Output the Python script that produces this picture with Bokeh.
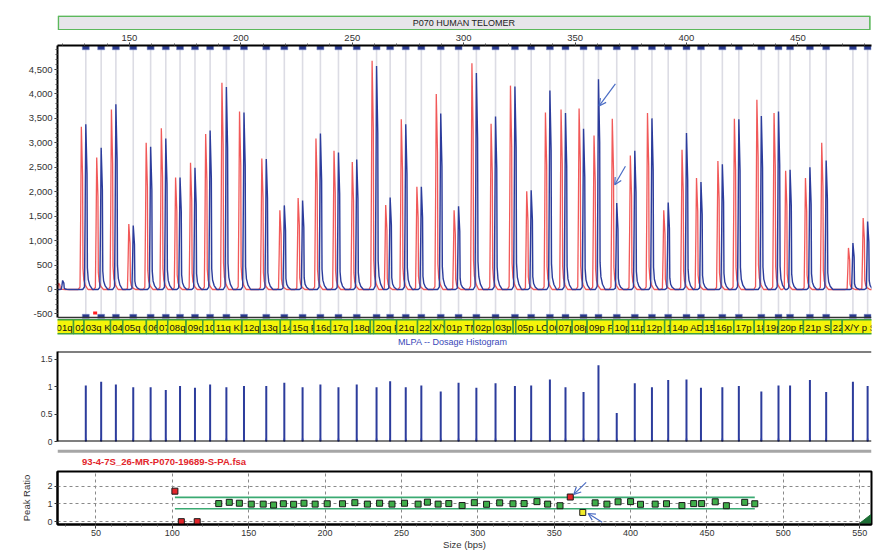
from bokeh.plotting import figure
from bokeh.layouts import column
from bokeh.models import (Range1d, SingleIntervalTicker, FixedTicker, NumeralTickFormatter,
                          Span, Label, Arrow, OpenHead, ColumnDataSource)
from bokeh.core.properties import value
from bokeh.embed import file_html
from bokeh.resources import INLINE

FONT = "Liberation Sans"
W = 894

# ---------------- data ----------------
PANEL_TITLE = "P070 HUMAN TELOMER"
HIST_TITLE = "MLPA -- Dosage Histogram"
FILE_NAME = "93-4-7S_26-MR-P070-19689-S-PA.fsa"

PROBE_BP = [130.4, 137.3, 143.9, 151.7, 159.5, 166.3, 172.7, 179.4, 186.2, 193.5,
            201.4, 211.4, 219.5, 227.7, 235.7, 243.8, 252.0, 260.9, 267.0, 274.0,
            281.0, 289.7, 297.7, 305.7, 314.3, 323.0, 330.3, 338.7, 345.7, 353.8,
            360.5, 368.7, 376.8, 384.5, 391.8, 400.0, 406.5, 416.1, 423.5, 433.6,
            441.3, 446.5, 455.4, 462.7, 474.7, 481.3]
REF_PEAK_BP = [128.4, 135.3, 141.9, 149.7, 157.5, 164.3, 170.7, 177.4, 184.2, 191.5,
               199.4, 209.4, 217.5, 225.7, 233.7, 241.8, 250.0, 258.9, 265.0, 272.0,
               279.0, 287.7, 295.7, 303.7, 312.3, 321.0, 328.3, 336.7, 343.7, 351.8,
               358.5, 366.7, 374.8, 382.5, 389.8, 398.0, 404.5, 414.1, 421.5, 431.6,
               439.3, 444.5, 453.4, 460.7, 472.7, 479.3]
REF_HEIGHT = [3330, 2700, 3680, 1340, 3000, 3300, 2290, 2590, 3180, 4230,
              3640, 2680, 1620, 1870, 3090, 2840, 2610, 4680, 1730, 3480,
              2100, 4000, 1620, 4630, 3390, 4170, 2010, 3620, 3680, 3700,
              3150, 3490, 2740, 3610, 1620, 2860, 2280, 2630, 3490, 3880,
              3610, 2430, 2280, 3000, 850, 1460]
SAMPLE_HEIGHT = [3380, 2900, 3790, 1310, 2920, 3090, 2290, 2490, 3250, 4140,
                 3620, 2670, 1720, 1820, 3190, 2800, 2660, 4570, 1880, 3380,
                 2100, 3600, 1700, 4430, 3540, 4150, 2030, 4070, 3610, 3290,
                 4300, 1770, 2840, 3500, 1780, 3200, 2200, 2560, 3480, 3550,
                 3640, 2450, 2500, 2640, 950, 1390]
EXTRA_REF_BP, EXTRA_REF_H = [118.2], [130]
EXTRA_SAMPLE_BP, EXTRA_SAMPLE_H = [120.0], [185]
FLAG_BP = [134.6]
FLAG_Y = [-480]

DOSAGE = [1.02, 1.09, 1.04, 0.99, 0.99, 0.94, 1.01, 0.98, 1.04, 0.99,
          1.01, 1.01, 1.07, 0.99, 1.04, 0.99, 1.04, 0.99, 1.10, 0.99,
          1.02, 0.91, 1.07, 0.98, 1.06, 1.01, 1.02, 1.13, 0.99, 0.90,
          1.39, 0.52, 1.06, 0.99, 1.12, 1.13, 0.98, 0.99, 1.01, 0.91,
          1.02, 1.02, 1.12, 0.90, 1.09, 1.01]
CONTROL_BP = [101.7, 105.9, 116.3]
CONTROL_RATIO = [1.72, 0.0, 0.0]
LOWER_LIMIT, UPPER_LIMIT = 0.73, 1.37

STRIP_LABELS = ["01q I", "02q", "03q KI", "04q", "05q C", "06q", "07q", "08q", "09q", "10q",
                "11q KI", "12q", "13q", "14q", "15q F", "16q", "17q S", "18q", "19q", "20q F",
                "21q S", "22q", "X/Y", "01p TN", "02p", "03p", "04p", "05p LO", "06p", "07p",
                "08p", "09p FL", "10p", "11p", "12p", "13p", "14p AD", "15p", "16p", "17p",
                "18p", "19p", "20p F", "21p S", "22p", "X/Y p S"]
STRIP_BIN_START = [116.5, 124.9, 129.6, 141.5, 147.0, 157.6, 162.5, 167.2, 175.4, 182.9,
                   187.9, 200.5, 208.7, 217.7, 222.3, 232.8, 240.3, 250.0, 258.1, 259.6,
                   269.9, 279.3, 285.2, 291.4, 304.5, 313.5, 322.2, 323.4, 337.5, 341.8,
                   348.7, 355.4, 366.9, 374.0, 381.1, 390.2, 392.8, 407.3, 412.4, 421.3,
                   430.4, 434.7, 441.3, 452.5, 464.9, 469.9]

# ---------------- styles / layout ----------------
LEFT = 57
X0_TOP = 117.70
X1_TOP = X0_TOP + (W - LEFT) / 2.291
Y0_TOP, Y1_TOP = -573, 4991          # electropherogram value range
EP_PX = 272                          # pixel height of the electropherogram part
PX = EP_PX / (Y1_TOP - Y0_TOP)       # px per signal unit
EXTRA_PX = 32                        # strip + caption below it


def below(px):
    return Y0_TOP - px / PX


Y_FRAME_BOTTOM = below(EXTRA_PX)
H_TOP = 1.64
X0_B, X1_B = 24.85, 557.7
Y0_B, Y1_B = -0.16, 2.83

BLUE = "#2c3c9c"
RED = "#ee3c3c"
GREEN_BORDER = "#3f9f3f"
ARROW_C = "#4a6cc4"
PEAK_DX = [-1.4, -0.6, -0.3, 0.0, 0.55, 0.72, 1.1, 1.8, 3.0]
PEAK_FY = [0.0, 0.015, 0.45, 1.0, 0.7, 0.13, 0.06, 0.025, 0.0]


def trace(centers, heights):
    xs, ys = [X0_TOP - 3], [0]
    for c, h in sorted(zip(centers, heights)):
        for dx, fy in zip(PEAK_DX, PEAK_FY):
            xs.append(c + dx)
            ys.append(h * fy)
    xs.append(X1_TOP + 5)
    ys.append(0)
    return xs, ys


def bare(fig):
    fig.grid.visible = False
    fig.outline_line_color = None
    fig.background_fill_color = "white"
    fig.border_fill_color = "white"


def style_axis(ax, size="9.5px"):
    ax.major_label_text_font = FONT
    ax.major_label_text_font_size = size
    ax.major_label_text_color = "#333333"
    ax.axis_line_color = "black"
    ax.axis_line_width = 2
    ax.major_tick_line_color = "#333333"
    ax.minor_tick_line_color = "#555555"
    ax.major_tick_in = 0
    ax.minor_tick_in = 0
    ax.major_tick_out = 3
    ax.minor_tick_out = 2
    ax.major_label_standoff = 2


# ---------- title bar ----------
ft = figure(width=W, height=30, x_range=Range1d(0, 1), y_range=Range1d(0, 1),
            x_axis_location=None, y_axis_location=None, toolbar_location=None,
            output_backend="svg", min_border_left=LEFT, min_border_right=0,
            min_border_top=15, min_border_bottom=0)
bare(ft)
ft.quad(left=[0.001], right=[0.998], bottom=[0.05], top=[0.96], fill_color="#e7e5ea",
        line_color="#5cb85c", line_width=1.6)
ft.add_layout(Label(x=0.4994, y=0.5, text=PANEL_TITLE, text_align="center",
                    text_baseline="middle", text_font=FONT, text_font_size="9px",
                    text_color="#222222"))

# ---------- electropherogram + label strip + caption ----------
fa = figure(width=W, height=15 + EP_PX + EXTRA_PX, x_range=Range1d(X0_TOP, X1_TOP),
            y_range=Range1d(Y_FRAME_BOTTOM, Y1_TOP), x_axis_location="above",
            toolbar_location=None, output_backend="svg",
            min_border_left=LEFT, min_border_right=0, min_border_top=15, min_border_bottom=0)
bare(fa)
fa.xaxis.ticker = SingleIntervalTicker(interval=50, num_minor_ticks=5)
fa.yaxis.ticker = SingleIntervalTicker(interval=500, num_minor_ticks=5)
fa.yaxis.formatter = NumeralTickFormatter(format="0,0")
fa.yaxis.bounds = (Y0_TOP, Y1_TOP)
style_axis(fa.xaxis[0])
style_axis(fa.yaxis[0])

npr = len(PROBE_BP)
probe_src = ColumnDataSource(dict(x=PROBE_BP, y0=[Y0_TOP] * npr, y1=[Y1_TOP] * npr,
                                  top=[Y1_TOP - 2.3 / PX] * npr,
                                  bot=[Y0_TOP + 1.2 / PX] * npr))
fa.segment(x0="x", x1="x", y0="y0", y1="y1", source=probe_src, line_color="#dcdce4",
           line_width=1.6)
rx, ry = trace(REF_PEAK_BP + EXTRA_REF_BP, REF_HEIGHT + EXTRA_REF_H)
bx, by = trace(PROBE_BP + EXTRA_SAMPLE_BP, SAMPLE_HEIGHT + EXTRA_SAMPLE_H)
fa.line(rx, ry, line_color=RED, line_width=1.3, line_alpha=0.85)
fa.line(bx, by, line_color=BLUE, line_width=1.4)
fa.rect(x="x", y="top", width=7, height=4, width_units="screen", height_units="screen",
        source=probe_src, fill_color="#2a3a8e", line_color="#8090c8", line_width=0.5)
fa.rect(x="x", y="bot", width=7, height=4, width_units="screen", height_units="screen",
        source=probe_src, fill_color="#2a3a8e", line_color="#8090c8", line_width=0.5)
fa.rect(x=FLAG_BP, y=FLAG_Y, width=4, height=3, width_units="screen", height_units="screen",
        fill_color="#ff2020", line_color=None)
fa.add_layout(Span(location=Y0_TOP, dimension="width", line_color="#333333", line_width=1.5))
fa.add_layout(Arrow(end=OpenHead(size=7, line_color=ARROW_C, line_width=1.2),
                    x_start=368.1, y_start=4207, x_end=360.8, y_end=3755,
                    line_color=ARROW_C, line_width=1.2))
fa.add_layout(Arrow(end=OpenHead(size=7, line_color=ARROW_C, line_width=1.2),
                    x_start=372.6, y_start=2522, x_end=367.8, y_end=2141,
                    line_color=ARROW_C, line_width=1.2))

n = len(STRIP_LABELS)
for i in range(n):
    left = STRIP_BIN_START[i]
    right = STRIP_BIN_START[i + 1] if i + 1 < n else X1_TOP + 10
    fa.quad(left=[left], right=[right], top=[below(2.3)], bottom=[below(16.3)],
            fill_color="#f4f40a", line_color=GREEN_BORDER, line_width=1.5)
    fa.text(x=[left + 0.8], y=[below(9.6)], text=[STRIP_LABELS[i]], text_font=value(FONT),
            text_font_size="9.5px", text_baseline="middle", text_align="left",
            text_color="#111111")
fa.add_layout(Label(x=295.1, y=below(24), text=HIST_TITLE, text_align="center",
                    text_baseline="middle", text_font=FONT, text_font_size="9px",
                    text_color="#3848b8"))

# ---------- dosage histogram ----------
fh = figure(width=W, height=99, x_range=Range1d(X0_TOP, X1_TOP), y_range=Range1d(0, H_TOP),
            x_axis_location=None, toolbar_location=None, output_backend="svg",
            min_border_left=LEFT, min_border_right=0, min_border_top=2, min_border_bottom=7)
bare(fh)
fh.yaxis.ticker = FixedTicker(ticks=[0, 0.5, 1, 1.5])
fh.yaxis.formatter = NumeralTickFormatter(format="0.[0]")
style_axis(fh.yaxis[0], "8.5px")
fh.yaxis.minor_tick_line_color = None
hsrc = ColumnDataSource(dict(x=PROBE_BP, y=DOSAGE, z=[0] * npr))
fh.segment(x0="x", x1="x", y0="z", y1="y", source=hsrc, line_color=BLUE, line_width=2)
fh.rect(x="x", y="z", width=1.5, height=6, width_units="screen", height_units="screen",
        source=hsrc, fill_color="#3040b0", line_color=None)
fh.add_layout(Span(location=H_TOP, dimension="width", line_color="black", line_width=2))
fh.add_layout(Span(location=0, dimension="width", line_color="black", line_width=2))

# ---------- separator + file name ----------
fsep = figure(width=W, height=20, x_range=Range1d(0, W), y_range=Range1d(20, 0),
              x_axis_location=None, y_axis_location=None, toolbar_location=None,
              output_backend="svg", min_border_left=0, min_border_right=0,
              min_border_top=0, min_border_bottom=0)
bare(fsep)
fsep.add_layout(Span(location=2.7, dimension="width", line_color="#a6a6a6", line_width=3))
fsep.add_layout(Label(x=27, y=12.7, text=FILE_NAME, text_baseline="middle",
                      text_font=FONT, text_font_size="9.5px", text_font_style="bold",
                      text_color="#e2262b"))

# ---------- peak ratio panel ----------
fb = figure(width=W, height=84, x_range=Range1d(X0_B, X1_B), y_range=Range1d(Y0_B, Y1_B),
            toolbar_location=None, output_backend="svg",
            min_border_left=LEFT, min_border_right=23, min_border_top=3, min_border_bottom=24)
fb.background_fill_color = "white"
fb.outline_line_color = "black"
fb.outline_line_width = 2
fb.xaxis.ticker = SingleIntervalTicker(interval=50, num_minor_ticks=5)
fb.yaxis.ticker = FixedTicker(ticks=[0, 1, 2])
fb.yaxis.formatter = NumeralTickFormatter(format="0")
style_axis(fb.xaxis[0], "9px")
style_axis(fb.yaxis[0], "9px")
fb.xaxis.major_tick_out = 4
fb.xaxis.major_label_standoff = 1
fb.yaxis.minor_tick_line_color = None
fb.xaxis.axis_label = "Size (bps)"
fb.yaxis.axis_label = "Peak Ratio"
for ax in (fb.xaxis[0], fb.yaxis[0]):
    ax.axis_label_text_font = FONT
    ax.axis_label_text_font_size = "9.5px"
    ax.axis_label_text_font_style = "normal"
    ax.axis_label_text_color = "#333333"
fb.xaxis.axis_label_standoff = 0
fb.yaxis.axis_label_standoff = 12
fb.grid.grid_line_color = "#8a8a8a"
fb.grid.grid_line_dash = "3 3"
fb.grid.grid_line_width = 1

fb.segment(x0=[CONTROL_BP[0]] * 2, x1=[PROBE_BP[-1]] * 2, y0=[UPPER_LIMIT, LOWER_LIMIT],
           y1=[UPPER_LIMIT, LOWER_LIMIT], line_color="#3aaa72", line_width=1.6)
colors = ["#e3262b" if r > UPPER_LIMIT else ("#f2ec2a" if r < LOWER_LIMIT else "#3fae49")
          for r in DOSAGE]
fb.scatter(x=PROBE_BP, y=DOSAGE, marker="square", size=6, fill_color=colors,
           line_color="#1a1a1a", line_width=1)
fb.scatter(x=CONTROL_BP, y=CONTROL_RATIO, marker="square", size=6, fill_color="#e3262b",
           line_color="#1a1a1a", line_width=1)
fb.patch(x=[X1_B - 7.5, X1_B - 0.6, X1_B - 0.6], y=[Y0_B + 0.08, Y0_B + 0.08, Y0_B + 0.55],
         fill_color="#1d6e35", line_color="#1d6e35")
fb.add_layout(Arrow(end=OpenHead(size=7, line_color=ARROW_C, line_width=1.2),
                    x_start=370.9, y_start=2.22, x_end=362.8, y_end=1.54,
                    line_color=ARROW_C, line_width=1.2))
fb.add_layout(Arrow(end=OpenHead(size=7, line_color=ARROW_C, line_width=1.2),
                    x_start=381.4, y_start=-0.03, x_end=372.2, y_end=0.46,
                    line_color=ARROW_C, line_width=1.2))

layout = column(ft, fa, fh, fsep, fb, spacing=0)
open("out.html", "w").write(file_html(layout, INLINE))
